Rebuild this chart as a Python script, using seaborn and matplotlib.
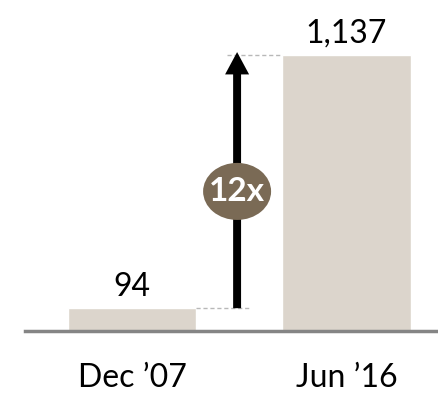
import matplotlib
matplotlib.use("Agg")
import matplotlib.pyplot as plt
import seaborn as sns
import pandas as pd
from matplotlib.patches import Ellipse, FancyArrow

categories = ["Dec \u201907", "Jun \u201916"]
values = [94, 1137]
value_labels = ["94", "1,137"]
multiple_label = "12x"

sns.set_theme(style="white")
plt.rcParams['font.family'] = ['Lato', 'DejaVu Sans']

fig = plt.figure(figsize=(4.38, 3.96), dpi=100)
ax = fig.add_axes([25/438, (396-331)/396, 1 - 25/438, 331/396])

df = pd.DataFrame({"cat": categories, "val": values})
sns.barplot(data=df, x="cat", y="val", color="#dcd5cc", saturation=1, width=0.6, ax=ax)

ax.set_xlim(-0.4988, 1.4266)
ax.set_ylim(0, 1137 * 331 / 276)

for s in ["top", "right", "left"]:
    ax.spines[s].set_visible(False)
ax.spines["bottom"].set_color("#858585")
ax.spines["bottom"].set_linewidth(2.5)
ax.set_yticks([])
ax.set_xlabel("")
ax.set_ylabel("")
ax.tick_params(axis="x", length=0, pad=23, labelsize=23, labelcolor="black")

for i, (v, lab) in enumerate(zip(values, value_labels)):
    ax.text(i, v + 25, lab, ha="center", va="bottom", fontsize=23, color="black")

# dashed guide lines
ax.plot([0.443, 0.70], [values[1], values[1]], color="#b8b8b8", lw=1, ls=(0, (3, 2)))
ax.plot([0.30, 0.55], [values[0], values[0]], color="#b8b8b8", lw=1, ls=(0, (3, 2)))

# arrow
arr = FancyArrow(0.49, values[0], 0, values[1] - values[0] + 12, width=0.037,
                 head_width=0.112, head_length=92, length_includes_head=True,
                 color="black", lw=0, zorder=4)
ax.add_patch(arr)

# ellipse with multiple
ell = Ellipse((0.49, 575), width=0.317, height=235, facecolor="#7a6a55", edgecolor="none", zorder=5)
ax.add_patch(ell)
ax.text(0.49, 575, multiple_label, ha="center", va="center", fontsize=24,
        fontweight="bold", color="white", zorder=6)

fig.savefig("out.png", dpi=100)
